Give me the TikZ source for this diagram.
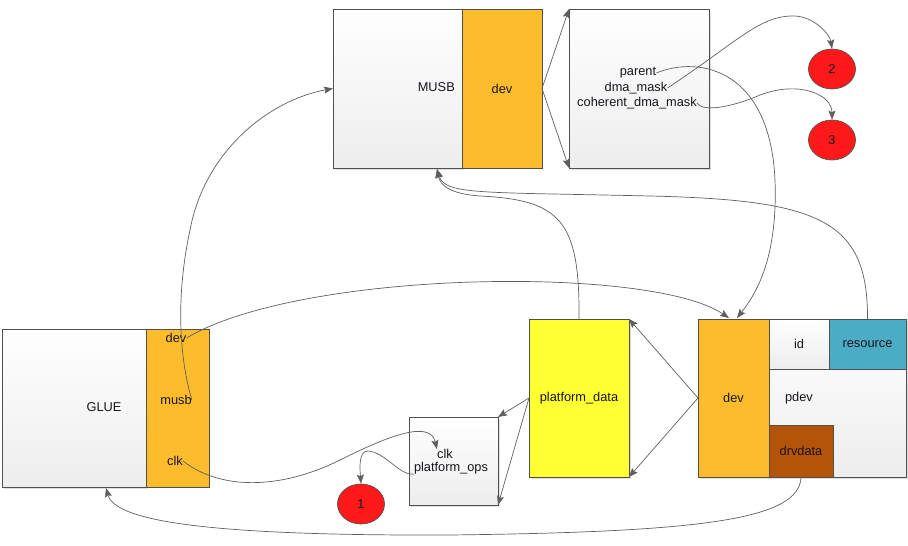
\documentclass[tikz,border=0pt]{standalone}
\usepackage{fontspec}
\setmainfont{Liberation Sans}
\usetikzlibrary{shapes.geometric,arrows.meta,shadows}
\definecolor{linec}{RGB}{80,80,80}
\definecolor{connc}{RGB}{95,95,95}
\definecolor{orangeb}{RGB}{253,188,43}
\definecolor{yellowb}{RGB}{255,255,51}
\definecolor{blueb}{RGB}{75,172,198}
\definecolor{brownb}{RGB}{180,84,10}
\definecolor{redb}{RGB}{255,25,25}
\definecolor{txtc}{RGB}{25,20,30}
\tikzset{
  base/.style={rectangle,draw=linec,line width=0.7pt,inner sep=0pt,outer sep=0pt,anchor=north west,text=txtc,font=\fontsize{12.8}{14}\selectfont},
  graybox/.style={base,top color=white,bottom color=gray!14},
  shad/.style={drop shadow={shadow xshift=1.5pt,shadow yshift=-1.5pt,opacity=0.25}},
  orbox/.style={base,fill=orangeb},
  yebox/.style={base,fill=yellowb},
  blbox/.style={base,fill=blueb},
  brbox/.style={base,fill=brownb},
  oval/.style={ellipse,draw=linec,line width=0.7pt,fill=redb,minimum width=47pt,minimum height=40pt,inner sep=0pt,text=txtc,font=\fontsize{12.8}{14}\selectfont},
  lbl/.style={inner sep=0pt,text=txtc,font=\fontsize{12.8}{14}\selectfont},
  conn/.style={draw=connc,line width=0.7pt},
  arr/.style={conn,-{Stealth[length=9pt,width=7pt,inset=1.5pt]}},
}
\begin{document}
\begin{tikzpicture}[x=1pt,y=-1pt]
\useasboundingbox (0,0) rectangle (908,546);
% MUSB
\node[graybox,shad,minimum width=129pt,minimum height=159pt] (musbL) at (333,9) {};
\node[orbox,minimum width=80pt,minimum height=159pt] (musbDev) at (462,9) {dev};
\node[lbl,anchor=east] (tMusb) at (455,87) {MUSB};
% device struct
\node[graybox,shad,minimum width=140pt,minimum height=159pt] (devS) at (569,9) {};
\node[lbl] (tParent) at (638,73) {parent};
\node[lbl] (tDma) at (636,88) {dma\_mask};
\node[lbl] (tCoh) at (637,103) {coherent\_dma\_mask};
\node[oval] (e2) at (832,69) {2};
\node[oval] (e3) at (832,140) {3};
% GLUE
\node[graybox,shad,minimum width=144pt,minimum height=158pt] (glueL) at (2,329) {};
\node[orbox,minimum width=63pt,minimum height=158pt] (glueR) at (146,329) {};
\node[lbl] (tGlue) at (104,407) {GLUE};
\node[lbl] (tGdev) at (176,338) {dev};
\node[lbl] (tGmusb) at (176,400) {musb};
\node[lbl] (tGclk) at (175,461) {clk};
% platform ops
\node[graybox,shad,minimum width=89pt,minimum height=88pt] (ops) at (409,417) {};
\node[lbl] (tClk) at (445,454) {clk};
\node[lbl] (tOps) at (451,468) {platform\_ops};
\node[oval] (e1) at (361,504) {1};
% platform data
\node[yebox,shad,minimum width=100pt,minimum height=158pt] (pdata) at (529,319) {platform\_data};
% platform device
\node[graybox,shad,minimum width=208pt,minimum height=158pt] (pdev) at (698,319) {};
\node[orbox,minimum width=71pt,minimum height=158pt] (pdevDev) at (698,319) {dev};
\node[graybox,minimum width=60pt,minimum height=50pt] (id) at (769,319) {id};
\node[blbox,minimum width=77pt,minimum height=50pt] (res) at (829,319) {resource};
\node[lbl] (tPdev) at (799,398) {pdev};
\node[brbox,minimum width=64pt,minimum height=52pt] (drv) at (769,425) {drvdata};
% coordinates
\coordinate (musbIn) at (437,169);
\coordinate (glueIn) at (106,488);
\coordinate (devInL) at (729,318);
\coordinate (devInR) at (737,318);
% connectors
\draw[arr] (musbDev.east) -- (devS.north west);
\draw[arr] (musbDev.east) -- (devS.south west);
\draw[arr] (tParent.east) .. controls (700,55) and (770,70) .. (775,180) .. controls (778,260) and (755,295) .. (devInR);
\draw[arr] (tDma.east) .. controls (740,40) and (760,15) .. (795,16) .. controls (815,17) and (830,35) .. (e2.north);
\draw[arr] (tCoh.east) .. controls (702,112) and (730,108) .. (760,95) .. controls (800,80) and (832,95) .. (e3.north);
\draw[arr] (tGdev.east) .. controls (300,270) and (650,265) .. (devInL);
\draw[arr] (tGmusb.east) .. controls (180,360) and (175,300) .. (190,230) .. controls (205,150) and (270,100) .. (musbL.west);
\draw[arr] (tGclk.east) .. controls (220,490) and (280,490) .. (340,460) .. controls (390,435) and (430,420) .. (tClk.north west);
\draw[arr] (tOps.south west) .. controls (400,476) and (385,452) .. (368,451) .. controls (358,451) and (360,470) .. (e1.north);
\draw[arr] (pdata.west) -- (ops.north east);
\draw[arr] (pdata.west) -- (ops.south east);
\draw[arr] (pdevDev.west) -- (pdata.north east);
\draw[arr] (pdevDev.west) -- (pdata.south east);
\draw[arr] (pdata.north) .. controls (580,220) and (560,200) .. (480,196) .. controls (450,194) and (440,185) .. (musbIn);
\draw[arr] (res.north) .. controls (868,220) and (820,200) .. (650,196) .. controls (480,192) and (445,195) .. (musbIn);
\draw[arr] (drv.south) .. controls (800,520) and (700,532) .. (450,535) .. controls (200,536) and (115,520) .. (glueIn);
\end{tikzpicture}
\end{document}
